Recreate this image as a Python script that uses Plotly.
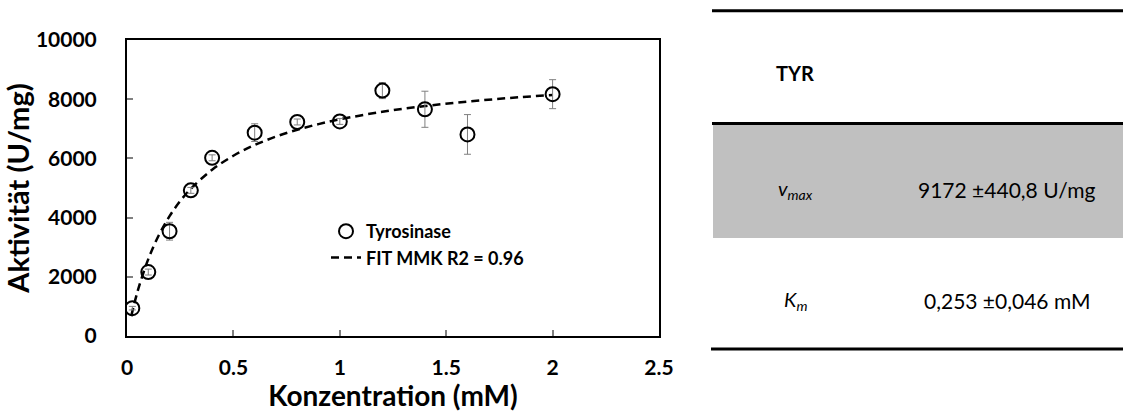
import plotly.graph_objects as go

# ---- data ----
conc = [0.025, 0.1, 0.2, 0.3, 0.4, 0.6, 0.8, 1.0, 1.2, 1.4, 1.6, 2.0]
activity = [940, 2160, 3540, 4920, 6020, 6870, 7230, 7250, 8290, 7660, 6810, 8170]
activity_err = [60, 100, 300, 100, 100, 300, 100, 100, 270, 610, 670, 490]

fit_x = [0.02, 0.05, 0.1, 0.15, 0.2, 0.25, 0.3, 0.4, 0.5, 0.6, 0.7, 0.8, 0.9,
         1.0, 1.2, 1.4, 1.6, 1.8, 2.0]
fit_y = [672, 1514, 2598, 3414, 4049, 4559, 4976, 5618, 6090, 6452, 6737, 6968,
         7159, 7320, 7575, 7768, 7920, 8042, 8142]

x_ticks = [0, 0.5, 1, 1.5, 2, 2.5]
x_tick_labels = ["0", "0.5", "1", "1.5", "2", "2.5"]
y_ticks = [0, 2000, 4000, 6000, 8000, 10000]
y_tick_labels = ["0", "2000", "4000", "6000", "8000", "10000"]

table_header = "TYR"
param_names = ["<i>v<sub>max</sub></i>", "<i>K<sub>m</sub></i>"]
param_values = ["9172 ±440,8 U/mg", "0,253 ±0,046 mM"]

W, H = 1123, 412
FONT = "Lato"


def px(xp):
    return xp / W


def py(yp):
    return 1 - yp / H


fig = go.Figure()

fig.add_trace(go.Scatter(
    x=fit_x, y=fit_y, mode="lines", name="FIT MMK R2 = 0.96",
    line=dict(color="black", width=2.5, dash="8px,5px", shape="spline"),
    legendgroup="b", legendrank=2,
))
fig.add_trace(go.Scatter(
    x=conc, y=activity, mode="markers", name="Tyrosinase",
    marker=dict(symbol="circle-open", size=14, color="black",
                line=dict(width=2, color="black")),
    error_y=dict(type="data", array=activity_err, visible=True,
                 color="#808080", thickness=1, width=3.5),
    legendgroup="a", legendrank=1,
))

fig.update_layout(
    width=W, height=H,
    margin=dict(l=0, r=0, t=0, b=0, autoexpand=False),
    paper_bgcolor="white", plot_bgcolor="white",
    font=dict(family=FONT, color="black"),
    showlegend=True,
    legend=dict(
        x=px(326), y=py(213), xanchor="left", yanchor="top",
        bgcolor="rgba(0,0,0,0)", font=dict(size=18, family=FONT, weight="bold"),
        traceorder="grouped", tracegroupgap=0, itemwidth=30,
    ),
    xaxis=dict(
        domain=[px(127), px(659)], range=[0, 2.5], automargin=False,
        tickvals=x_ticks, ticktext=x_tick_labels,
        ticks="inside", ticklen=6, tickcolor="#808080", tickwidth=2,
        showline=True, linecolor="black", linewidth=2, mirror=True,
        showgrid=False, zeroline=False,
        tickfont=dict(size=21, family=FONT, weight="bold"),
        ticklabelstandoff=12,
        title=dict(text="Konzentration (mM)", standoff=7,
                   font=dict(size=28, family=FONT, weight="bold")),
    ),
    yaxis=dict(
        domain=[py(336), py(40)], range=[0, 10000], automargin=False,
        tickvals=y_ticks, ticktext=y_tick_labels,
        ticks="inside", ticklen=6, tickcolor="#808080", tickwidth=2,
        showline=True, linecolor="black", linewidth=2, mirror=True,
        showgrid=False, zeroline=False,
        tickfont=dict(size=21, family=FONT, weight="bold"),
        ticklabelstandoff=24,
        title=dict(text="Aktivität (U/mg)", standoff=0,
                   font=dict(size=29, family=FONT, weight="bold")),
    ),
)

# ---- table on the right ----
shapes = [
    dict(type="rect", xref="paper", yref="paper",
         x0=px(713), x1=px(1123), y0=py(238), y1=py(123.5),
         fillcolor="#C0C0C0", line=dict(width=0), layer="below"),
    dict(type="line", xref="paper", yref="paper",
         x0=px(712), x1=px(1123), y0=py(10.7), y1=py(10.7),
         line=dict(color="black", width=3)),
    dict(type="line", xref="paper", yref="paper",
         x0=px(712), x1=px(1123), y0=py(123.5), y1=py(123.5),
         line=dict(color="black", width=3)),
    dict(type="line", xref="paper", yref="paper",
         x0=px(711), x1=px(1123), y0=py(349), y1=py(349),
         line=dict(color="black", width=3)),
]
fig.update_layout(shapes=shapes)

col1_x, col2_x = 795, 1007
row_y = [189, 300]
fig.add_annotation(x=px(col1_x), y=py(73.5), xref="paper", yref="paper",
                   text="<b>" + table_header + "</b>", showarrow=False,
                   font=dict(size=20, family=FONT), xanchor="center", yanchor="middle")
for name, val, ry in zip(param_names, param_values, row_y):
    fig.add_annotation(x=px(col1_x), y=py(ry), xref="paper", yref="paper",
                       text=name, showarrow=False,
                       font=dict(size=20, family=FONT), xanchor="center", yanchor="middle")
    fig.add_annotation(x=px(col2_x), y=py(ry), xref="paper", yref="paper",
                       text=val, showarrow=False,
                       font=dict(size=21, family=FONT), xanchor="center", yanchor="middle")

fig.write_html("out.html")
